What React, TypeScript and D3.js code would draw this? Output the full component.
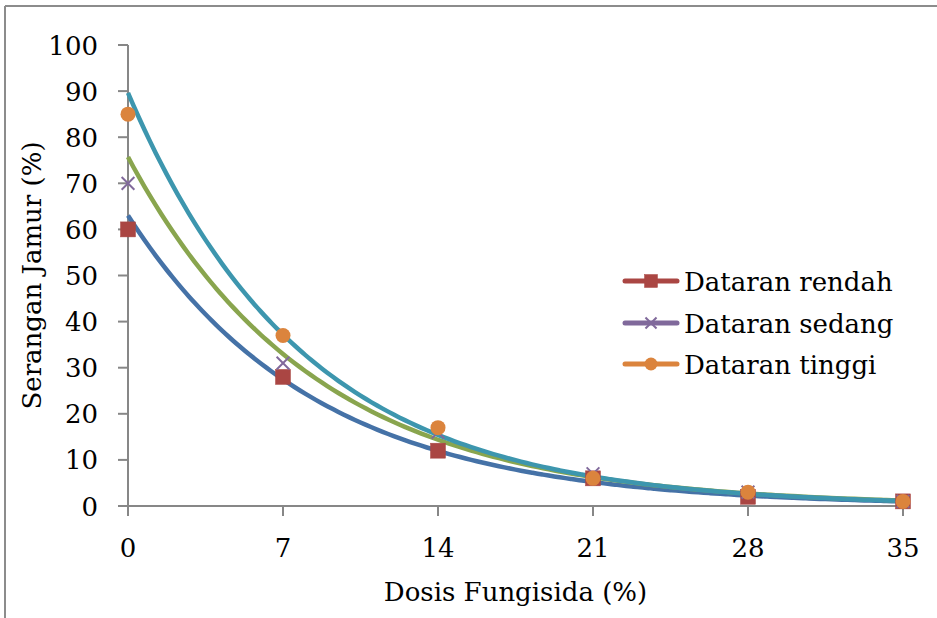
import React from "react";
import * as d3 from "d3";

// Fungicide dose (x) and fungal attack percentage per altitude class
const doses = [0, 7, 14, 21, 28, 35];
const rendah = [60, 28, 12, 6, 2, 1];
const sedang = [70, 31, 16, 7, 3, 1];
const tinggi = [85, 37, 17, 6, 3, 1];
const seriesNames = ["Dataran rendah", "Dataran sedang", "Dataran tinggi"];
const yTicks = [0, 10, 20, 30, 40, 50, 60, 70, 80, 90, 100];

const W = 937;
const H = 618;
const FONT = "'DejaVu Serif', serif";

const markerColors = ["#AA4643", "#80699B", "#DB843D"];
const trendColors = ["#4572A7", "#89A54E", "#3D96AE"];
const markerTypes = ["square", "cross", "circle"];

// Least-squares fit of y = a * exp(b * x) on log-transformed values
function expFit(xs: number[], ys: number[]) {
  const ly = ys.map((v) => Math.log(v));
  const mx = d3.mean(xs) as number;
  const my = d3.mean(ly) as number;
  let sxy = 0;
  let sxx = 0;
  xs.forEach((x, i) => {
    sxy += (x - mx) * (ly[i] - my);
    sxx += (x - mx) * (x - mx);
  });
  const b = sxy / sxx;
  const a = Math.exp(my - b * mx);
  return (x: number) => a * Math.exp(b * x);
}

function Marker({ type, cx, cy, color, size }: { type: string; cx: number; cy: number; color: string; size: number }) {
  const h = size / 2;
  if (type === "square") {
    return <rect x={cx - h} y={cy - h} width={size} height={size} fill={color} stroke={color} strokeWidth={0.5} />;
  }
  if (type === "circle") {
    return <circle cx={cx} cy={cy} r={h} fill={color} />;
  }
  const k = h * 0.85;
  return (
    <g stroke={color} strokeWidth={2}>
      <line x1={cx - k} y1={cy - k} x2={cx + k} y2={cy + k} />
      <line x1={cx - k} y1={cy + k} x2={cx + k} y2={cy - k} />
    </g>
  );
}

export default function App() {
  const x = d3.scaleLinear().domain([0, 35]).range([128, 903]);
  const y = d3.scaleLinear().domain([0, 100]).range([506, 45]);
  const data = [rendah, sedang, tinggi];

  const samples = d3.range(0, 35.0001, 0.25);
  const line = d3
    .line<[number, number]>()
    .x((d) => x(d[0]))
    .y((d) => y(d[1]))
    .curve(d3.curveMonotoneX);

  const trends = data.map((vals) => {
    const f = expFit(doses, vals);
    return line(samples.map((s) => [s, f(s)] as [number, number])) as string;
  });

  const axisColor = "#878787";
  const legendRows = [281, 323, 364];

  return (
    <div style={{ position: "fixed", left: 0, top: 0 }}>
      <svg width={W} height={H} style={{ display: "block", background: "#fff" }}>
        {/* chart frame */}
        <line x1={5} y1={6} x2={W} y2={6} stroke="#8c8c8c" strokeWidth={2} />
        <line x1={5} y1={6} x2={5} y2={H} stroke="#8c8c8c" strokeWidth={2} />

        {/* y axis */}
        <line x1={x(0)} y1={y(0)} x2={x(0)} y2={y(100)} stroke={axisColor} strokeWidth={2} />
        {yTicks.map((t) => (
          <g key={"y" + t}>
            <line x1={x(0) - 10} x2={x(0)} y1={y(t)} y2={y(t)} stroke={axisColor} strokeWidth={2} />
            <text x={98} y={y(t) + 9.5} textAnchor="end" fontFamily={FONT} fontSize={26} fill="#000">
              {t}
            </text>
          </g>
        ))}

        {/* x axis */}
        <line x1={x(0) - 10} y1={y(0)} x2={x(35)} y2={y(0)} stroke={axisColor} strokeWidth={2} />
        {doses.map((t) => (
          <g key={"x" + t}>
            <line x1={x(t)} x2={x(t)} y1={y(0)} y2={y(0) + 10} stroke={axisColor} strokeWidth={2} />
            <text x={x(t)} y={557} textAnchor="middle" fontFamily={FONT} fontSize={26} fill="#000">
              {t}
            </text>
          </g>
        ))}

        {/* axis titles */}
        <text x={(x(0) + x(35)) / 2} y={601} textAnchor="middle" fontFamily={FONT} fontSize={26} fill="#000">
          Dosis Fungisida (%)
        </text>
        <text
          transform={`translate(41, ${(y(0) + y(100)) / 2}) rotate(-90)`}
          textAnchor="middle"
          fontFamily={FONT}
          fontSize={26}
          fill="#000"
        >
          Serangan Jamur (%)
        </text>

        {/* exponential trendlines */}
        {trends.map((d, i) => (
          <path key={"t" + i} d={d} fill="none" stroke={trendColors[i]} strokeWidth={4.5} />
        ))}

        {/* observed points */}
        {data.map((vals, i) => (
          <g key={"s" + i}>
            {vals.map((v, j) => (
              <Marker key={j} type={markerTypes[i]} cx={x(doses[j])} cy={y(v)} color={markerColors[i]} size={15} />
            ))}
          </g>
        ))}

        {/* legend */}
        {seriesNames.map((name, i) => (
          <g key={"l" + i}>
            <line x1={625} x2={677} y1={legendRows[i]} y2={legendRows[i]} stroke={markerColors[i]} strokeWidth={5} strokeLinecap="round" />
            <Marker type={markerTypes[i]} cx={651} cy={legendRows[i]} color={markerColors[i]} size={13} />
            <text x={684} y={legendRows[i] + 9.5} fontFamily={FONT} fontSize={26} fill="#000">
              {name}
            </text>
          </g>
        ))}
      </svg>
    </div>
  );
}
